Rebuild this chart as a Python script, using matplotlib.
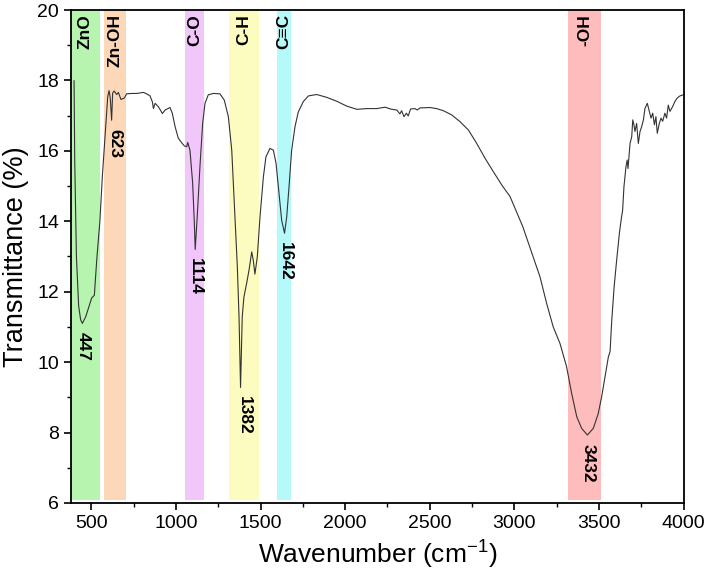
import matplotlib
matplotlib.use("Agg")
import matplotlib.pyplot as plt
from matplotlib.ticker import MultipleLocator

plt.rcParams['font.family'] = ['Liberation Sans', 'DejaVu Sans']
plt.rcParams['mathtext.fontset'] = 'custom'
plt.rcParams['mathtext.rm'] = 'Liberation Sans'

# FTIR spectrum (wavenumber in cm-1, transmittance in %)
wavenumber = [
    398, 402, 412, 425, 437, 447, 467, 502, 518, 532, 551, 565, 581, 597, 605,
    612, 620, 626, 635, 650, 660, 675, 695, 709, 739, 768, 807, 827, 847, 861,
    867, 877, 897, 920, 936, 965, 979, 995, 1014, 1034, 1050, 1064, 1070, 1083,
    1099, 1109, 1114, 1126, 1142, 1158, 1172, 1191, 1221, 1260, 1286, 1310,
    1330, 1349, 1363, 1373, 1382, 1392, 1402, 1418, 1432, 1448, 1457, 1467,
    1481, 1497, 1517, 1532, 1556, 1576, 1592, 1611, 1625, 1642, 1655, 1670,
    1684, 1704, 1723, 1753, 1783, 1832, 1891, 1950, 2010, 2069, 2128, 2187,
    2236, 2275, 2305, 2324, 2334, 2348, 2362, 2373, 2387, 2413, 2426, 2443,
    2502, 2541, 2581, 2630, 2679, 2729, 2778, 2827, 2876, 2926, 2975, 3050,
    3152, 3191, 3230, 3270, 3309, 3339, 3369, 3398, 3432, 3467, 3496, 3516,
    3536, 3556, 3566, 3576, 3590, 3605, 3621, 3634, 3640, 3648, 3660, 3667,
    3672, 3684, 3694, 3700, 3707, 3713, 3723, 3733, 3743, 3753, 3763, 3772,
    3786, 3798, 3808, 3818, 3828, 3837, 3845, 3857, 3867, 3877, 3890, 3900,
    3910, 3920, 3936, 3949, 3963, 3979, 3998,
]
transmittance = [
    17.99, 15.7, 13.0, 11.6, 11.2, 11.1, 11.29, 11.82, 11.9, 12.9, 14.03, 15.26,
    16.4, 17.54, 17.71, 17.5, 16.87, 17.64, 17.7, 17.6, 17.66, 17.46, 17.5,
    17.62, 17.63, 17.63, 17.66, 17.62, 17.56, 17.39, 17.2, 17.35, 17.25, 17.06,
    17.16, 17.23, 17.06, 16.69, 16.36, 16.23, 16.14, 16.12, 16.24, 16.02,
    15.08, 13.94, 13.2, 14.13, 15.55, 16.78, 17.35, 17.59, 17.63, 17.62, 17.44,
    16.97, 16.02, 14.13, 12.71, 11.29, 9.28, 11.29, 11.85, 12.24, 12.61, 13.13,
    12.9, 12.5, 12.99, 14.13, 15.26, 15.83, 16.07, 16.02, 15.64, 14.7, 14.03,
    13.66, 14.13, 15.08, 16.02, 16.69, 17.1, 17.4, 17.56, 17.6, 17.52, 17.41,
    17.27, 17.18, 17.2, 17.2, 17.24, 17.18, 17.16, 17.05, 17.14, 16.97, 17.07,
    16.99, 17.19, 17.2, 17.16, 17.22, 17.23, 17.2, 17.14, 17.02, 16.83, 16.59,
    16.21, 15.79, 15.41, 15.03, 14.7, 13.85, 12.42, 11.67, 11.0, 10.53, 9.87,
    9.11, 8.45, 8.12, 7.93, 8.12, 8.54, 9.01, 9.58, 10.15, 10.3, 11.19, 12.14,
    12.9, 13.66, 14.13, 14.3, 14.98, 15.55, 15.74, 15.5, 16.21, 16.4, 16.88,
    16.74, 16.55, 16.78, 16.21, 16.55, 16.69, 16.88, 17.2, 17.35, 17.12, 16.93,
    17.07, 16.74, 16.97, 16.5, 16.78, 16.93, 16.84, 17.07, 16.93, 17.3, 17.12,
    17.26, 17.4, 17.5, 17.56, 17.59,
]

# highlighted bands (start, end) with their group label and colour
band_labels = ['ZnO', 'Zn-OH', 'C-O', 'C-H', 'C\u2261C', '-OH']
band_ranges = [(380, 550), (575, 705), (1055, 1165), (1315, 1490), (1600, 1680), (3320, 3510)]
band_colors = ['#b6f4b0', '#fcd8b8', '#f1c6f8', '#fdfcc0', '#b6f9fb', '#ffbcbc']

# peak annotations
peak_labels = ['447', '623', '1114', '1382', '1642', '3432']
peak_values = [11.1, 16.87, 13.2, 9.28, 13.66, 7.93]
peak_text_x = [453, 640, 1117, 1405, 1645, 3437]

fig = plt.figure(figsize=(7.08, 5.85), dpi=100)
ax = fig.add_axes([0.1003, 0.1402, 0.8651, 0.8427])

for (x0, x1), color, label in zip(band_ranges, band_colors, band_labels):
    ax.axvspan(x0, x1, ymin=0.007, ymax=1.0, color=color, lw=0, zorder=0)
    ax.text((x0 + x1) / 2, 19.88, label, rotation=90, ha='center', va='top',
            fontsize=12.5, fontweight='bold', zorder=3)

ax.plot(wavenumber, transmittance, color='#333333', lw=0.8, zorder=2)

for label, value, tx in zip(peak_labels, peak_values, peak_text_x):
    ax.text(tx, value - 0.25, label, rotation=-90, ha='center', va='top',
            fontsize=12.5, fontweight='bold', zorder=3)

ax.set_xlim(380, 4000)
ax.set_ylim(6, 20)
ax.xaxis.set_major_locator(MultipleLocator(500))
ax.xaxis.set_minor_locator(MultipleLocator(250))
ax.yaxis.set_major_locator(MultipleLocator(2))
ax.yaxis.set_minor_locator(MultipleLocator(1))
ax.tick_params(which='major', direction='out', length=5, width=1.2, labelsize=14)
ax.tick_params(which='minor', direction='out', length=3, width=1.0)
for spine in ax.spines.values():
    spine.set_linewidth(1.3)

ax.set_xlabel('Wavenumber (cm$^{-1}$)', fontsize=19)
ax.set_ylabel('Transmittance (%)', fontsize=19.5, labelpad=6)

fig.savefig('out.png', dpi=100)
